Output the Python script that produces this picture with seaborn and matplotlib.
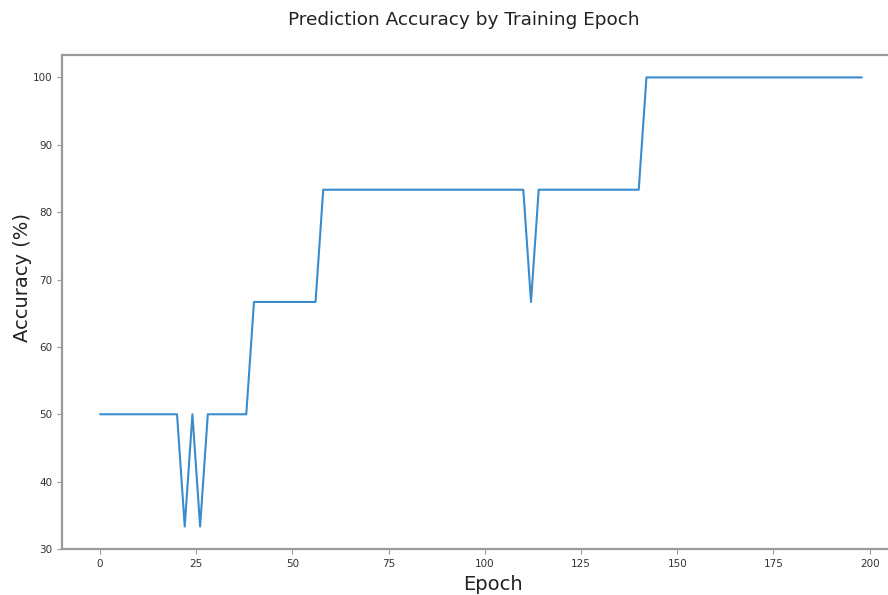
import matplotlib
matplotlib.use("Agg")
import matplotlib.pyplot as plt
import seaborn as sns
import pandas as pd

# Accuracy (%) recorded every second epoch
epochs = list(range(0, 200, 2))
accuracy = [
    50, 50, 50, 50, 50, 50, 50, 50, 50, 50, 50,
    33.33, 50, 33.33,
    50, 50, 50, 50, 50, 50,
    66.67, 66.67, 66.67, 66.67, 66.67, 66.67, 66.67, 66.67, 66.67,
    83.33, 83.33, 83.33, 83.33, 83.33, 83.33, 83.33, 83.33, 83.33,
    83.33, 83.33, 83.33, 83.33, 83.33, 83.33, 83.33, 83.33, 83.33,
    83.33, 83.33, 83.33, 83.33, 83.33, 83.33, 83.33, 83.33, 83.33,
    66.67,
    83.33, 83.33, 83.33, 83.33, 83.33, 83.33, 83.33,
    83.33, 83.33, 83.33, 83.33, 83.33, 83.33, 83.33,
    100, 100, 100, 100, 100, 100, 100, 100, 100, 100,
    100, 100, 100, 100, 100, 100, 100, 100, 100, 100,
    100, 100, 100, 100, 100, 100, 100, 100, 100,
]
x_ticks = [0, 25, 50, 75, 100, 125, 150, 175, 200]
y_ticks = [30, 40, 50, 60, 70, 80, 90, 100]

df = pd.DataFrame({"Epoch": epochs, "Accuracy": accuracy})

sns.set_style("white")
plt.rcParams["font.family"] = ["DejaVu Sans"]

fig = plt.figure(figsize=(8.88, 5.95), dpi=100)
ax = fig.add_axes([0.0698, 0.0773, 0.9437, 0.8303])

sns.lineplot(data=df, x="Epoch", y="Accuracy", ax=ax, color="#3a8ccc", linewidth=1.5)

ax.set_xticks(x_ticks)
ax.set_yticks(y_ticks)
ax.set_ylim(30, 103.33)
ax.set_xlim(-9.9, 207.9)

ax.tick_params(axis="both", labelsize=7.5, colors="#333333", length=3.5,
               width=0.8, direction="out", bottom=True, left=True)
ax.tick_params(axis="both", color="#999999")
for side, sp in ax.spines.items():
    sp.set_color("#9a9a9a")
    sp.set_linewidth(1.6)
ax.spines["right"].set_visible(False)

ax.set_xlabel("")
ax.set_ylabel("")
fig.text(0.555, 0.002, "Epoch", ha="center", va="bottom", fontsize=14, color="#222222")
fig.text(0.025, 0.533, "Accuracy (%)", ha="center", va="center", rotation=90,
         fontsize=14, color="#222222")
fig.text(0.5225, 0.966, "Prediction Accuracy by Training Epoch", ha="center",
         va="center", fontsize=13.3, color="#222222")

fig.savefig("out.png", dpi=100, facecolor="white")
